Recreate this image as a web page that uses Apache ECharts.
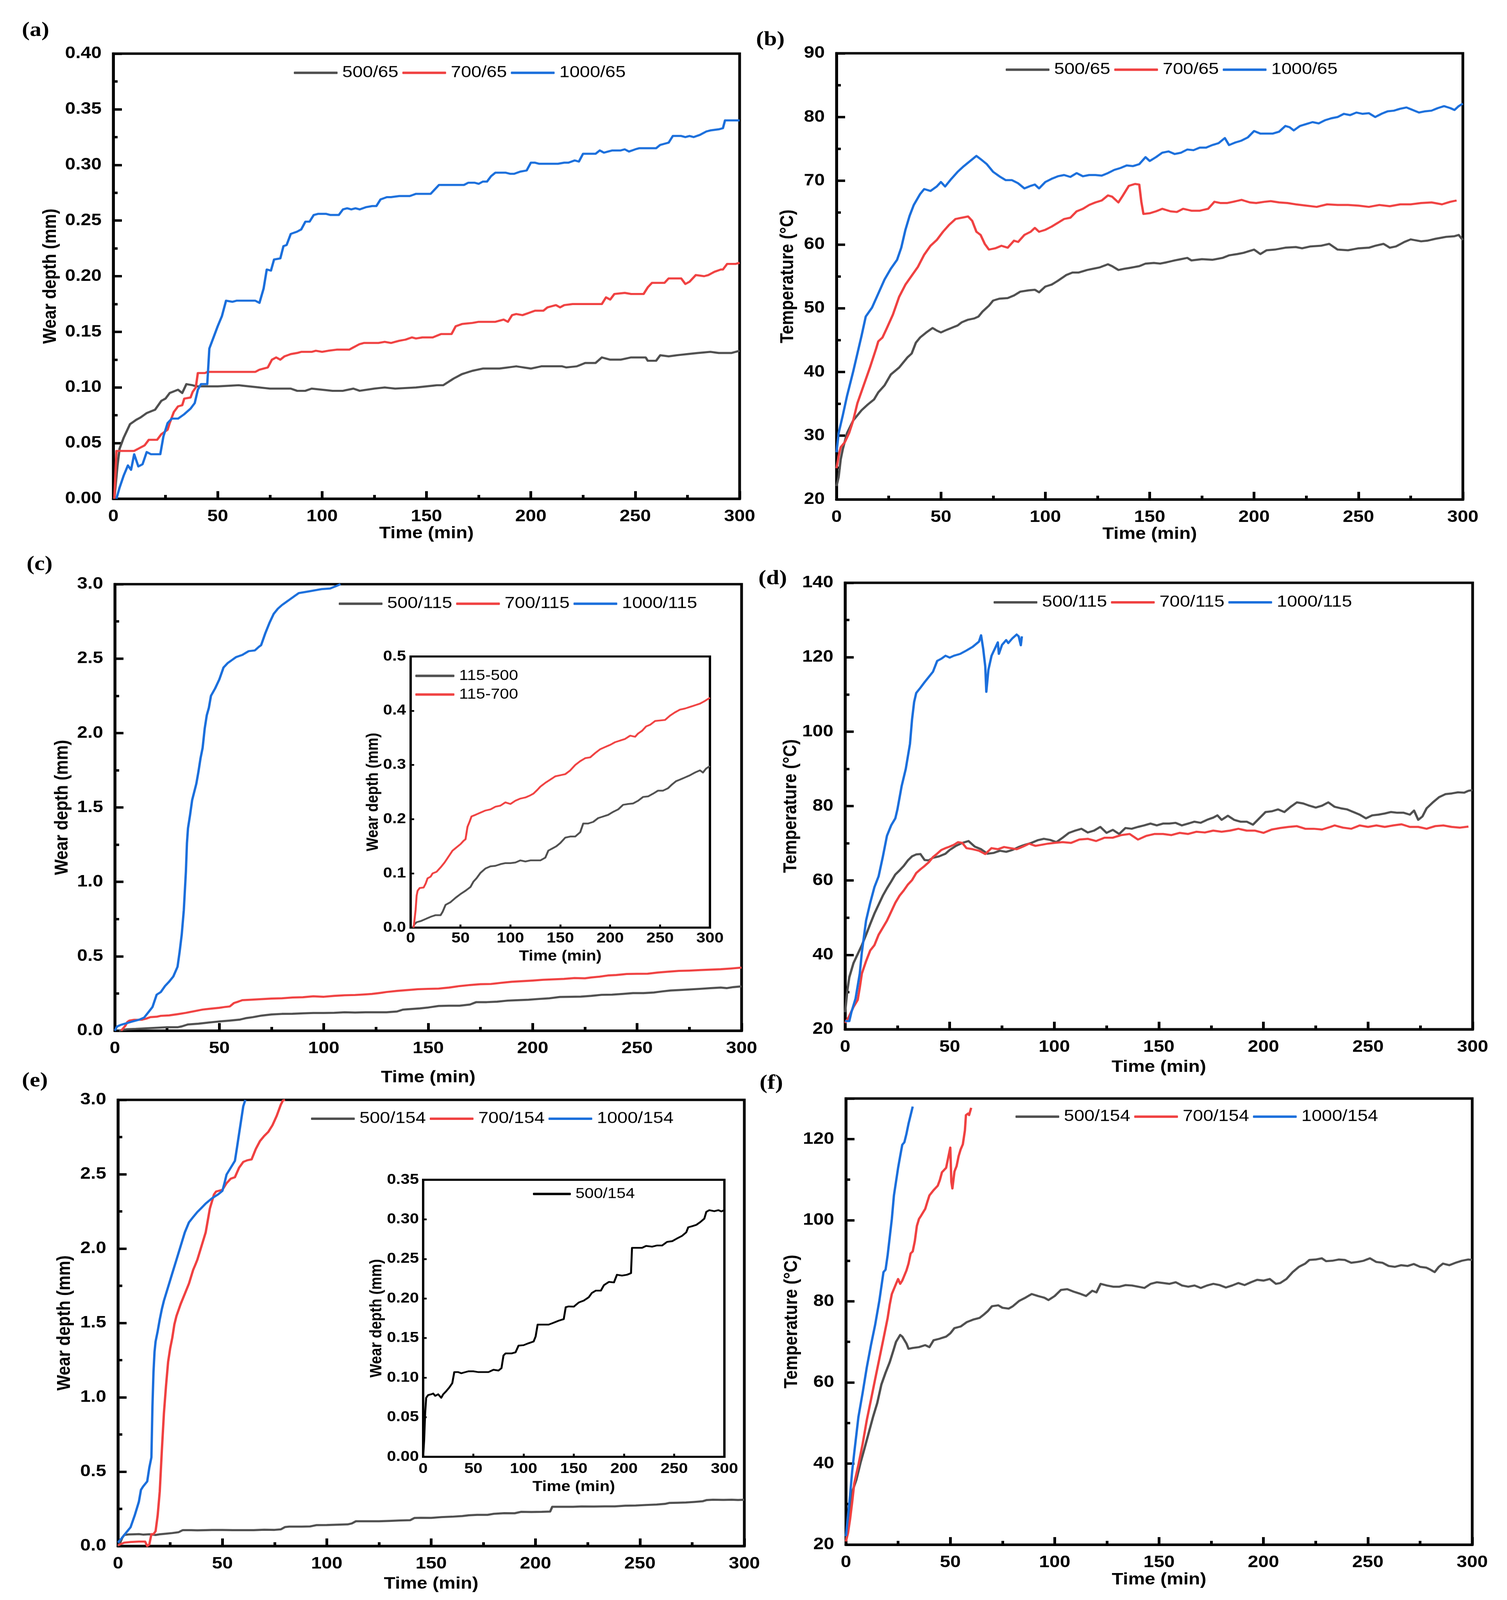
<!DOCTYPE html>
<html>
<head>
<meta charset="utf-8">
<title>Wear depth and temperature</title>
<script src="https://cdn.jsdelivr.net/npm/echarts@6/dist/echarts.min.js"></script>
<style>
	html, body { margin: 0; padding: 0; background: #fff; overflow: hidden; }
	#chart { width: 3857px; height: 4626px; transform-origin: 0 0; }
</style>
</head>
<body>
<div id="chart"></div>
<script>
// ---- data: [time (min), value] ----
const wear65_500 = [[0.5,0],[2,0.03],[3,0.045],[5,0.055],[8,0.067],[11,0.071],[13,0.073],[16,0.077],[20,0.08],[23,0.088],[25,0.09],[27,0.095],[31,0.098],[33,0.095],[35,0.103],[38,0.102],[40,0.101],[50,0.101],[60,0.102],[70,0.1],[75,0.099],[85,0.099],[88,0.097],[92,0.097],[95,0.099],[100,0.098],[105,0.097],[110,0.097],[115,0.099],[118,0.097],[125,0.099],[130,0.1],[135,0.099],[145,0.1],[150,0.101],[155,0.102],[158,0.102],[163,0.108],[167,0.112],[172,0.115],[177,0.117],[185,0.117],[193,0.119],[200,0.117],[205,0.119],[215,0.119],[217,0.118],[222,0.119],[226,0.122],[231,0.122],[234,0.127],[238,0.125],[243,0.125],[248,0.127],[255,0.127],[256,0.124],[260,0.124],[262,0.129],[266,0.128],[270,0.129],[275,0.13],[280,0.131],[286,0.132],[290,0.131],[296,0.131],[300,0.133]];
const wear65_700 = [[0.5,0],[1.5,0.043],[10,0.043],[13,0.046],[15,0.048],[17,0.053],[21,0.053],[23,0.058],[26,0.062],[27,0.068],[29,0.078],[31,0.083],[33,0.084],[34,0.09],[37,0.091],[38,0.096],[39.5,0.1],[40.5,0.113],[44,0.113],[45,0.114],[68,0.114],[70,0.116],[74,0.118],[76,0.125],[78,0.127],[80,0.125],[82,0.128],[85,0.13],[88,0.131],[90,0.132],[95,0.132],[97,0.133],[100,0.132],[103,0.133],[107,0.134],[113,0.134],[115,0.136],[118,0.139],[120,0.14],[127,0.14],[130,0.141],[133,0.14],[137,0.142],[140,0.143],[143,0.145],[145,0.144],[148,0.145],[153,0.145],[157,0.148],[162,0.148],[164,0.155],[167,0.157],[172,0.158],[175,0.159],[183,0.159],[187,0.161],[189,0.159],[191,0.165],[193,0.166],[196,0.165],[199,0.167],[202,0.169],[206,0.169],[208,0.172],[212,0.174],[214,0.172],[216,0.174],[220,0.175],[234,0.175],[236,0.181],[238,0.179],[240,0.184],[245,0.185],[248,0.184],[254,0.184],[256,0.19],[258,0.194],[264,0.194],[266,0.198],[272,0.198],[274,0.193],[276,0.195],[279,0.201],[283,0.2],[285,0.201],[288,0.204],[291,0.206],[292,0.206],[294,0.211],[298,0.211],[300,0.212]];
const wear65_1000 = [[1.5,0],[3,0.01],[5,0.021],[7,0.03],[8.5,0.026],[10,0.04],[12,0.029],[14,0.031],[16,0.042],[18,0.04],[22.5,0.04],[24,0.056],[26,0.068],[28,0.072],[31,0.072],[34,0.076],[37,0.081],[39,0.086],[40.5,0.098],[42,0.103],[45,0.103],[46,0.135],[48,0.145],[50,0.155],[52,0.164],[54,0.178],[57,0.177],[59,0.178],[68,0.178],[70,0.176],[72,0.189],[73.5,0.206],[75.5,0.205],[77,0.215],[80,0.216],[81.5,0.227],[83,0.228],[85,0.238],[88,0.24],[90,0.242],[92,0.249],[94,0.249],[96,0.255],[98,0.256],[102,0.256],[104,0.255],[108,0.255],[110,0.26],[112,0.261],[114,0.26],[116,0.261],[118,0.26],[121,0.262],[124,0.263],[126,0.263],[128,0.269],[131,0.271],[133,0.271],[137,0.272],[142,0.272],[145,0.274],[152,0.274],[154,0.278],[156,0.282],[168,0.282],[170,0.284],[173,0.284],[175,0.283],[177,0.285],[179,0.285],[181,0.29],[183,0.293],[188,0.293],[190,0.292],[192,0.292],[195,0.294],[198,0.295],[200,0.302],[202,0.302],[204,0.301],[213,0.301],[216,0.302],[218,0.302],[221,0.304],[223,0.303],[225,0.31],[231,0.31],[233,0.313],[235,0.311],[237,0.312],[239,0.313],[243,0.313],[245,0.314],[247,0.312],[250,0.314],[252,0.315],[260,0.315],[262,0.318],[264,0.319],[266,0.32],[268,0.326],[272,0.326],[274,0.325],[276,0.326],[278,0.325],[281,0.327],[284,0.33],[286,0.331],[290,0.332],[292,0.333],[293,0.34],[300,0.34]];

const temp65_500 = [[0,22.1],[1,23.5],[2,26.3],[3,27.9],[5,30.4],[8,32.4],[12,34.0],[15,34.9],[18,35.7],[20,36.8],[23,37.9],[26,39.6],[30,40.7],[32,41.5],[34,42.3],[36,42.9],[38,44.6],[40,45.4],[43,46.2],[46,46.9],[48,46.5],[50,46.2],[52,46.5],[55,46.9],[58,47.3],[60,47.8],[63,48.2],[66,48.4],[68,48.7],[70,49.5],[73,50.4],[75,51.2],[78,51.5],[82,51.6],[85,52.0],[88,52.6],[92,52.8],[95,52.9],[97,52.5],[100,53.4],[103,53.7],[106,54.3],[110,55.2],[113,55.6],[116,55.6],[120,56.0],[123,56.2],[126,56.4],[130,56.9],[132,56.6],[135,56.0],[138,56.2],[140,56.3],[145,56.6],[148,57.0],[152,57.1],[155,57.0],[158,57.2],[162,57.5],[165,57.7],[168,57.9],[170,57.5],[175,57.7],[180,57.6],[185,57.9],[188,58.3],[192,58.5],[195,58.7],[200,59.2],[203,58.5],[206,59.1],[210,59.2],[215,59.5],[220,59.6],[223,59.4],[227,59.7],[232,59.8],[236,60.1],[240,59.2],[245,59.1],[250,59.4],[255,59.5],[258,59.8],[262,60.1],[265,59.5],[268,59.7],[272,60.4],[275,60.8],[280,60.5],[283,60.6],[287,60.9],[292,61.2],[296,61.3],[298,61.5],[300,60.7]];
const temp65_700 = [[0,24.9],[1,26.8],[2,28.2],[4,29.0],[6,30.4],[8,32.4],[10,35.1],[13,37.9],[16,40.7],[19,43.7],[20,44.8],[22,45.4],[24,46.8],[27,49.0],[30,51.8],[33,53.7],[36,55.1],[39,56.5],[42,58.4],[45,59.8],[48,60.7],[51,62.0],[54,63.1],[57,64.0],[60,64.2],[63,64.4],[65,63.7],[67,62.0],[69,61.5],[71,60.1],[73,59.2],[76,59.4],[79,59.8],[82,59.5],[85,60.6],[87,60.4],[90,61.5],[93,62.0],[95,62.6],[97,62.0],[100,62.3],[103,62.8],[106,63.4],[109,64.0],[112,64.2],[115,65.2],[118,65.6],[121,66.2],[124,66.6],[127,66.9],[130,67.7],[132,67.5],[135,66.6],[137,67.6],[140,69.2],[143,69.5],[145,69.4],[146,66.7],[147,64.8],[150,64.9],[153,65.2],[156,65.6],[160,65.2],[163,65.1],[166,65.6],[170,65.3],[174,65.3],[178,65.6],[181,66.7],[184,66.5],[187,66.5],[190,66.7],[194,67.0],[198,66.6],[201,66.5],[205,66.7],[208,66.8],[212,66.6],[216,66.5],[220,66.3],[225,66.1],[230,65.9],[235,66.3],[240,66.2],[245,66.2],[250,66.1],[255,65.9],[260,66.2],[265,66.0],[270,66.3],[275,66.3],[280,66.5],[285,66.6],[290,66.3],[294,66.7],[297,66.9]];
const temp65_1000 = [[0,27.4],[1,30.4],[3,33.2],[5,36.2],[8,40.1],[10,42.9],[12,45.7],[14,48.7],[17,50.1],[20,52.3],[23,54.5],[26,56.2],[29,57.6],[31,59.5],[33,62.3],[35,64.5],[37,66.2],[40,67.9],[42,68.7],[45,68.4],[48,69.1],[50,69.8],[52,69.1],[55,70.3],[58,71.4],[61,72.3],[64,73.1],[67,73.9],[69,73.4],[72,72.6],[75,71.4],[78,70.7],[81,70.1],[84,70.1],[87,69.6],[90,68.8],[93,69.2],[95,69.4],[97,68.8],[100,69.8],[103,70.3],[106,70.7],[109,70.9],[112,70.6],[115,71.2],[118,70.7],[121,70.9],[124,70.9],[127,70.8],[130,71.2],[133,71.7],[136,72.0],[139,72.4],[142,72.3],[145,72.6],[148,73.7],[150,73.1],[153,73.7],[156,74.4],[159,74.6],[162,74.2],[165,74.4],[168,74.9],[171,74.8],[174,75.2],[177,75.2],[180,75.6],[183,75.9],[186,76.7],[188,75.6],[191,76.0],[194,76.3],[197,76.8],[200,77.8],[203,77.4],[206,77.4],[209,77.4],[212,77.7],[215,78.6],[217,78.4],[219,77.9],[222,78.6],[225,78.9],[228,79.2],[231,79.0],[234,79.5],[237,79.8],[240,80.0],[243,80.5],[246,80.3],[249,80.7],[252,80.5],[255,80.6],[258,80.0],[261,80.5],[264,80.9],[267,81.0],[270,81.3],[273,81.5],[276,81.1],[279,80.7],[282,80.9],[285,81.0],[288,81.4],[291,81.7],[294,81.4],[296,81.1],[298,81.7],[300,82.1]];

const wear115_500 = [[2,0],[4,0.0065],[6,0.01],[10,0.012],[15,0.016],[20,0.02],[25,0.023],[30,0.023],[32,0.029],[35,0.042],[40,0.047],[45,0.055],[50,0.062],[55,0.068],[60,0.075],[63,0.085],[66,0.091],[70,0.101],[75,0.109],[80,0.113],[85,0.114],[90,0.117],[95,0.119],[100,0.119],[105,0.12],[110,0.124],[115,0.122],[120,0.124],[125,0.124],[130,0.124],[135,0.129],[138,0.142],[142,0.146],[146,0.15],[150,0.156],[155,0.166],[160,0.168],[165,0.168],[170,0.176],[173,0.192],[178,0.192],[183,0.195],[188,0.202],[193,0.205],[198,0.208],[203,0.2135],[208,0.218],[213,0.2265],[218,0.228],[223,0.229],[228,0.234],[233,0.241],[238,0.242],[243,0.247],[248,0.2526],[253,0.2526],[258,0.257],[262,0.264],[266,0.27],[270,0.273],[275,0.277],[280,0.281],[285,0.286],[290,0.29],[293,0.286],[296,0.293],[300,0.298]];
const wear115_700 = [[3,0],[5,0.033],[6,0.059],[7,0.068],[9,0.073],[13,0.074],[15,0.081],[17,0.091],[20,0.094],[22,0.1],[26,0.103],[30,0.111],[34,0.12],[38,0.131],[42,0.142],[46,0.148],[50,0.154],[53,0.16],[55,0.163],[57,0.186],[59,0.195],[61,0.205],[65,0.208],[70,0.212],[75,0.216],[80,0.218],[85,0.223],[90,0.225],[95,0.231],[100,0.228],[105,0.234],[110,0.238],[115,0.24],[120,0.244],[123,0.247],[127,0.254],[130,0.26],[135,0.267],[140,0.273],[145,0.279],[150,0.281],[155,0.283],[160,0.29],[165,0.3],[170,0.307],[175,0.3125],[180,0.314],[185,0.322],[190,0.329],[195,0.333],[200,0.337],[205,0.342],[210,0.345],[215,0.348],[220,0.354],[225,0.352],[228,0.358],[232,0.363],[236,0.371],[240,0.374],[245,0.381],[250,0.382],[255,0.383],[260,0.391],[265,0.397],[270,0.402],[275,0.404],[280,0.407],[285,0.41],[290,0.413],[295,0.418],[300,0.424]];
const wear115_1000 = [[0,0],[1,0.028],[3,0.04],[6,0.052],[9,0.064],[12,0.076],[14,0.088],[16,0.123],[18,0.159],[20,0.242],[22,0.26],[24,0.3],[26,0.33],[28,0.365],[30,0.43],[31,0.53],[32,0.645],[33,0.81],[34,1.07],[34.5,1.26],[35,1.36],[36,1.45],[37,1.55],[39,1.66],[40,1.74],[41,1.83],[42,1.9],[43,2.03],[44,2.12],[45,2.17],[46,2.25],[48,2.3],[50,2.36],[52,2.44],[54,2.47],[56,2.49],[58,2.51],[61,2.525],[64,2.55],[67,2.555],[69,2.58],[70,2.59],[72,2.67],[74,2.74],[76,2.8],[78,2.835],[80,2.86],[82,2.88],[84,2.9],[86,2.92],[88,2.94],[91,2.947],[95,2.957],[99,2.967],[103,2.971],[106,2.988],[108,3.0]];

const temp115_500 = [[0,24.6],[1,30.2],[2,34.0],[4,37.8],[6,40.2],[8,42.6],[10,45.4],[12,48.3],[14,51.1],[16,53.5],[18,55.9],[20,57.9],[22,59.7],[24,61.6],[26,62.7],[28,63.9],[30,65.4],[32,66.5],[34,67.0],[36,67.1],[38,65.5],[40,65.4],[42,66.1],[45,66.5],[48,67.2],[50,68.2],[53,69.3],[56,70.1],[59,70.6],[62,69.1],[65,68.4],[68,67.2],[71,67.4],[74,68.0],[77,67.7],[80,68.2],[83,69.0],[86,69.6],[89,70.1],[92,70.8],[95,71.2],[98,70.9],[101,70.3],[104,71.5],[107,72.8],[110,73.4],[113,73.9],[116,72.9],[119,73.4],[122,74.4],[125,72.8],[128,73.6],[131,72.5],[134,74.1],[137,73.9],[140,74.4],[143,74.8],[146,75.3],[149,74.8],[152,75.3],[155,75.3],[158,75.5],[161,74.8],[164,75.3],[167,75.8],[170,75.5],[173,76.3],[176,76.9],[178,77.5],[180,76.3],[183,77.4],[186,76.3],[189,75.8],[192,75.8],[195,75.0],[198,76.7],[201,78.4],[204,78.6],[207,79.1],[210,78.4],[213,79.8],[216,81.0],[219,80.7],[222,80.1],[225,79.6],[228,80.1],[231,81.0],[234,79.8],[237,79.4],[240,79.1],[243,78.4],[246,77.7],[249,76.7],[252,77.5],[255,77.7],[258,78.0],[261,78.4],[264,78.2],[267,78.2],[270,77.7],[272,78.8],[274,76.3],[276,77.2],[278,79.4],[281,81.0],[284,82.4],[287,83.2],[290,83.4],[293,83.7],[296,83.6],[298,84.1],[300,84.3]];
const temp115_700 = [[0,21.7],[2,23.6],[4,26.0],[6,27.9],[7,31.2],[8,35.0],[10,38.3],[12,41.2],[14,42.6],[16,45.4],[18,47.3],[20,49.2],[22,51.6],[24,54.0],[26,55.9],[28,57.3],[30,58.9],[32,60.1],[34,62.0],[36,63.0],[38,63.9],[40,64.9],[42,66.3],[44,67.2],[46,68.2],[48,68.7],[50,69.1],[52,69.6],[54,70.3],[56,70.1],[58,68.7],[61,68.4],[64,68.0],[67,67.1],[70,68.7],[73,68.4],[76,69.0],[79,68.7],[82,68.4],[85,69.1],[88,69.9],[91,69.3],[94,69.6],[97,69.9],[100,70.1],[104,70.3],[108,70.1],[112,71.0],[116,71.2],[120,70.6],[124,71.5],[128,71.5],[132,72.2],[136,72.5],[140,71.0],[144,72.0],[148,72.5],[152,72.5],[156,72.2],[160,72.8],[164,72.5],[168,73.1],[172,72.9],[176,73.4],[180,73.1],[184,73.4],[188,73.9],[192,73.4],[196,73.4],[200,72.8],[204,73.7],[208,74.1],[212,74.4],[216,74.6],[220,73.9],[224,73.9],[228,73.7],[232,74.4],[234,74.8],[238,74.2],[242,73.9],[246,74.8],[250,74.4],[254,74.8],[258,74.4],[262,74.8],[266,75.1],[270,74.4],[274,74.4],[278,73.9],[282,74.6],[286,74.8],[290,74.4],[294,74.2],[298,74.5]];
const temp115_1000 = [[0,22.2],[2,22.2],[3,24.6],[5,28.3],[7,35.0],[8,40.7],[10,49.2],[12,54.0],[14,58.2],[16,61.1],[18,66.3],[20,72.0],[22,74.8],[24,76.7],[25,79.1],[27,85.3],[29,90.0],[31,96.7],[32,103.3],[33,108.0],[34,110.4],[36,111.8],[38,113.3],[40,114.7],[42,116.1],[44,119.0],[46,119.6],[48,120.4],[50,119.9],[52,120.4],[55,120.9],[58,121.8],[61,122.8],[64,124.2],[65,125.9],[66,122.3],[67,117.5],[67.5,110.7],[68.5,116.6],[70,120.4],[72,122.8],[73,124.0],[73.5,120.9],[75,123.3],[77,124.6],[78,123.8],[80,125.1],[82,126.1],[83,125.6],[84,123.2],[84.5,125.6]];

const wear154_500 = [[0,0],[1,0.021],[2,0.055],[3,0.0746],[5,0.078],[8,0.079],[10,0.08],[12,0.077],[15,0.079],[18,0.0746],[20,0.079],[23,0.083],[26,0.0875],[29,0.093],[31,0.107],[35,0.107],[38,0.1056],[42,0.107],[45,0.108],[50,0.108],[55,0.107],[60,0.107],[65,0.107],[70,0.11],[75,0.109],[78,0.112],[80,0.128],[82,0.1306],[88,0.1306],[92,0.132],[95,0.1405],[100,0.141],[105,0.1435],[110,0.1457],[112,0.152],[114,0.167],[118,0.167],[125,0.167],[130,0.1694],[135,0.172],[140,0.174],[142,0.189],[145,0.19],[150,0.1897],[155,0.195],[160,0.1974],[165,0.2017],[168,0.207],[172,0.21],[177,0.21],[180,0.2168],[185,0.221],[190,0.2203],[193,0.23],[198,0.229],[203,0.23],[207,0.232],[208,0.264],[212,0.264],[218,0.264],[222,0.2664],[228,0.2655],[233,0.267],[238,0.267],[243,0.2716],[248,0.2724],[253,0.276],[258,0.2793],[262,0.2836],[264,0.29],[268,0.2914],[272,0.293],[276,0.2966],[280,0.3009],[282,0.3095],[285,0.3116],[290,0.3103],[294,0.3116],[297,0.31],[300,0.3116]];
const wear154_700 = [[0,0.005],[3,0.023],[6,0.0275],[10,0.03],[13,0.03],[14,0],[15,0.011],[16,0.08],[17,0.08],[18,0.1],[19,0.206],[20,0.367],[21,0.642],[22,0.894],[23,1.077],[24,1.238],[25,1.33],[26,1.4],[27,1.49],[28,1.547],[30,1.627],[32,1.696],[34,1.765],[36,1.857],[37,1.89],[38,1.925],[40,2.017],[42,2.109],[43,2.189],[44,2.269],[46,2.365],[47,2.384],[50,2.395],[52,2.44],[54,2.47],[56,2.48],[58,2.544],[60,2.583],[62,2.594],[64,2.6],[66,2.67],[68,2.723],[70,2.757],[72,2.785],[74,2.83],[76,2.892],[78,2.968],[79,2.996],[80,3.0]];
const wear154_1000 = [[0,0.023],[2,0.057],[4,0.092],[6,0.126],[8,0.206],[10,0.298],[11,0.378],[12,0.4],[14,0.435],[15,0.527],[16,0.596],[16.5,0.94],[17,1.17],[17.5,1.306],[18,1.375],[19,1.444],[20,1.524],[21,1.593],[22,1.65],[23,1.696],[24,1.742],[26,1.834],[28,1.925],[30,2.017],[32,2.109],[34,2.177],[36,2.212],[38,2.246],[40,2.274],[42,2.303],[45,2.338],[48,2.365],[50,2.388],[51,2.44],[52,2.498],[54,2.544],[56,2.59],[57,2.68],[58,2.773],[59,2.865],[60,2.957],[61,3.0]];

const temp154_500 = [[0,20.8],[1,25.5],[2,28.8],[3,33.0],[5,36.0],[7,40.2],[9,43.9],[11,47.7],[13,51.5],[15,54.9],[17,59.5],[19,62.4],[21,65.0],[23,68.3],[24,70.0],[26,71.7],[27,71.3],[29,69.6],[30,68.3],[32,68.5],[35,68.7],[38,69.2],[40,68.7],[42,70.4],[45,70.8],[48,71.3],[50,72.1],[52,73.4],[55,73.8],[58,74.9],[61,75.5],[64,75.9],[66,76.7],[68,77.6],[70,78.8],[73,79.0],[75,78.4],[78,78.2],[80,78.8],[83,80.1],[86,80.9],[89,81.8],[92,81.3],[95,80.9],[97,80.3],[100,81.3],[103,82.8],[106,83.0],[109,82.4],[112,81.9],[115,81.3],[118,82.6],[120,82.2],[122,84.3],[125,83.9],[128,83.6],[131,83.6],[134,84.0],[137,83.9],[140,83.6],[143,83.3],[146,84.3],[149,84.7],[152,84.5],[155,84.3],[158,84.7],[161,83.9],[164,83.6],[167,83.9],[170,83.3],[173,83.9],[176,84.3],[179,84.0],[182,83.4],[185,83.9],[188,84.5],[191,84.0],[194,84.7],[197,85.3],[200,85.1],[203,85.5],[206,84.3],[208,84.5],[211,85.5],[214,87.2],[217,88.5],[220,89.3],[222,90.2],[225,90.3],[228,90.6],[230,89.9],[233,90.0],[236,90.3],[239,90.2],[242,89.5],[245,89.7],[248,90.0],[251,90.6],[254,89.7],[257,89.5],[260,88.7],[263,88.5],[266,88.9],[269,88.7],[272,89.2],[275,88.5],[278,88.3],[280,87.8],[282,87.2],[284,88.5],[286,89.3],[289,88.9],[292,89.5],[295,90.0],[298,90.3],[300,90.2]];
const temp154_700 = [[0,20.8],[1,22.9],[2,26.3],[3,30.5],[4,35.1],[6,39.7],[8,44.8],[10,50.7],[12,55.7],[14,60.8],[16,65.8],[18,70.8],[20,75.9],[21,79.2],[22,81.8],[24,84.3],[25,85.5],[26,84.3],[27,85.1],[29,87.6],[30,89.3],[31,91.8],[32,92.3],[33,94.8],[34,98.6],[35,100.3],[36,101.1],[38,102.8],[39,104.5],[40,106.1],[42,107.4],[44,108.5],[45,109.9],[46,111.8],[48,112.9],[49,115.4],[50,117.9],[50.5,109.5],[51,107.8],[52,112.0],[53,113.3],[54,115.8],[55,117.5],[56,118.7],[57,122.1],[57.5,125.9],[58.5,126.3],[59,125.9],[60,127.7]];
const temp154_1000 = [[0,22.1],[1,27.1],[2,32.2],[3,38.1],[4,42.7],[6,51.5],[8,57.4],[10,63.7],[12,69.2],[14,74.2],[16,80.1],[18,87.2],[19,87.8],[20,91.4],[22,100.3],[23,106.1],[24,109.5],[25,112.9],[26,115.8],[27,118.6],[28,119.2],[29,121.3],[30,123.8],[31,125.9],[32,128.0]];

const timeTicks = { min: 0, max: 300, interval: 50 };

const GREY = "#4f4f4f";
const RED = "#f04141";
const BLUE = "#1b6fdc";
const FONT = '"Liberation Sans", Arial, sans-serif';
const PAGE_W = 3857, PAGE_H = 4626;

// plot boxes in page pixels
const boxes = [
	{ left: 290, top: 155, width: 1603, height: 1287 },   // a
	{ left: 2141, top: 154, width: 1603, height: 1290 },  // b
	{ left: 294, top: 1689, width: 1604, height: 1291 },  // c
	{ left: 2163, top: 1685, width: 1606, height: 1291 }, // d
	{ left: 302, top: 3180, width: 1603, height: 1290 },  // e
	{ left: 2165, top: 3176, width: 1603, height: 1290 }, // f
	{ left: 1051, top: 1898, width: 766, height: 784 },   // c inset
	{ left: 1083, top: 3411, width: 771, height: 801 },   // e inset
];

function makeGrid(b, inset) {
	return {
		left: b.left, top: b.top, width: b.width, height: b.height,
		show: true, borderColor: "#000", borderWidth: inset ? 6 : 7,
		backgroundColor: "transparent", containLabel: false,
	};
}

function makeX(g, nameGap, inset, labelMargin) {
	return {
		type: "value", gridIndex: g,
		min: timeTicks.min, max: timeTicks.max, interval: timeTicks.interval,
		name: "Time (min)", nameLocation: "middle", nameGap: nameGap,
		nameTextStyle: { fontSize: inset ? 42 : 48, fontWeight: "bold", color: "#000", fontFamily: FONT },
		axisLine: { show: true, onZero: false, lineStyle: { color: "#000", width: inset ? 6 : 7 } },
		axisTick: { show: true, inside: true, length: inset ? 9 : 22, lineStyle: { color: "#000", width: inset ? 5 : 7 } },
		minorTick: { show: !inset, splitNumber: 2, length: 11, lineStyle: { color: "#000", width: 7 } },
		splitLine: { show: false },
		axisLabel: { fontSize: inset ? 42 : 48, fontWeight: "bold", color: "#000", fontFamily: FONT, margin: labelMargin },
	};
}

function makeY(g, min, max, interval, digits, name, nameGap, inset, labelMargin) {
	const steps = (max - min) / interval;
	return {
		type: "value", gridIndex: g, min: min, max: max, interval: interval,
		name: name, nameLocation: "middle", nameGap: nameGap,
		nameTextStyle: { fontSize: inset ? 42 : 48, fontWeight: "bold", color: "#000", fontFamily: FONT },
		axisLine: { show: true, onZero: false, lineStyle: { color: "#000", width: inset ? 6 : 7 } },
		axisTick: { show: true, inside: true, length: inset ? 9 : 22, lineStyle: { color: "#000", width: inset ? 5 : 7 } },
		minorTick: { show: !inset, splitNumber: 2, length: 11, lineStyle: { color: "#000", width: 7 } },
		splitLine: { show: false },
		axisLabel: {
			fontSize: inset ? 42 : 48, fontWeight: "bold", color: "#000", fontFamily: FONT, margin: labelMargin,
			showMaxLabel: Math.abs(steps - Math.round(steps)) < 1e-6,
			formatter: function (v) { return v.toFixed(digits); },
		},
	};
}

function makeLine(name, data, color, idx, width) {
	return {
		type: "line", name: name, data: data,
		xAxisIndex: idx, yAxisIndex: idx,
		showSymbol: false, symbol: "none", clip: true,
		lineStyle: { color: color, width: width || 6, join: "round" },
		itemStyle: { color: color },
		emphasis: { disabled: true },
	};
}

function makeLegend(names, colors, left, top, orient, fontSize, itemWidth, itemGap) {
	return {
		orient: orient || "horizontal",
		left: left, top: top, padding: 0,
		itemWidth: itemWidth || 112, itemHeight: 7, itemGap: itemGap === undefined ? 10 : itemGap,
		icon: "roundRect", selectedMode: false,
		textStyle: { fontSize: fontSize || 47, color: "#000", fontFamily: FONT, padding: [0, 0, 0, 7] },
		data: names.map(function (n, i) { return { name: n, itemStyle: { color: colors[i] } }; }),
	};
}

const WD = "Wear depth (mm)";
const TC = "Temperature (°C)";

const option = {
	backgroundColor: "#fff",
	animation: false,
	grid: boxes.map(function (b, i) { return makeGrid(b, i >= 6); }),
	xAxis: [
		makeX(0, 74, false, 28),
		makeX(1, 72, false, 28),
		makeX(2, 112, false, 28),
		makeX(3, 86, false, 28),
		makeX(4, 86, false, 28),
		makeX(5, 78, false, 28),
		makeX(6, 62, true, 10),
		makeX(7, 66, true, 14),
	],
	yAxis: [
		makeY(0, 0, 0.4, 0.05, 2, WD, 136, false, 30),
		makeY(1, 20, 90, 10, 0, TC, 100, false, 30),
		makeY(2, 0, 3, 0.5, 1, WD, 110, false, 30),
		makeY(3, 20, 140, 20, 0, TC, 112, false, 30),
		makeY(4, 0, 3, 0.5, 1, WD, 112, false, 30),
		makeY(5, 20, 130, 20, 0, TC, 106, false, 30),
		makeY(6, 0, 0.5, 0.1, 1, WD, 72, true, 12),
		makeY(7, 0, 0.35, 0.05, 2, WD, 98, true, 11),
	],
	legend: [
		makeLegend(["500/65", "700/65", "1000/65"], [GREY, RED, BLUE], 752, 187),
		makeLegend(["500/65", "700/65", "1000/65"], [GREY, RED, BLUE], 2574, 178),
		makeLegend(["500/115", "700/115", "1000/115"], [GREY, RED, BLUE], 867, 1722),
		makeLegend(["500/115", "700/115", "1000/115"], [GREY, RED, BLUE], 2543, 1718),
		makeLegend(["500/154", "700/154", "1000/154"], [GREY, RED, BLUE], 796, 3211),
		makeLegend(["500/154", "700/154", "1000/154"], [GREY, RED, BLUE], 2599, 3205),
		makeLegend(["115-500", "115-700"], [GREY, RED], 1063, 1933, "vertical", 42, 100, 12),
		makeLegend(["500/154 "], ["#000"], 1364, 3431, "horizontal", 42, 97),
	],
	series: [
		makeLine("500/65", wear65_500, GREY, 0),
		makeLine("700/65", wear65_700, RED, 0),
		makeLine("1000/65", wear65_1000, BLUE, 0),
		makeLine("500/65", temp65_500, GREY, 1),
		makeLine("700/65", temp65_700, RED, 1),
		makeLine("1000/65", temp65_1000, BLUE, 1),
		makeLine("500/115", wear115_500, GREY, 2),
		makeLine("700/115", wear115_700, RED, 2),
		makeLine("1000/115", wear115_1000, BLUE, 2),
		makeLine("500/115", temp115_500, GREY, 3),
		makeLine("700/115", temp115_700, RED, 3),
		makeLine("1000/115", temp115_1000, BLUE, 3),
		makeLine("500/154", wear154_500, GREY, 4),
		makeLine("700/154", wear154_700, RED, 4),
		makeLine("1000/154", wear154_1000, BLUE, 4),
		makeLine("500/154", temp154_500, GREY, 5),
		makeLine("700/154", temp154_700, RED, 5),
		makeLine("1000/154", temp154_1000, BLUE, 5),
		makeLine("115-500", wear115_500, GREY, 6, 5),
		makeLine("115-700", wear115_700, RED, 6, 5),
		makeLine("500/154 ", wear154_500, "#000", 7, 5),
	],
	graphic: [
		["(a)", 56, 58], ["(b)", 1935, 85], ["(c)", 68, 1602],
		["(d)", 1941, 1643], ["(e)", 56, 3095], ["(f)", 1944, 3102],
	].map(function (p) {
		return {
			type: "text", left: p[1], top: p[2], silent: true,
			style: { text: p[0], fill: "#000", font: 'bold 60px "Liberation Serif", "DejaVu Serif", serif' },
		};
	}),
};

// the viewport may be shorter than the figure: squeeze the whole page into it
const box = document.getElementById("chart");
const sx = Math.min(1, window.innerWidth / PAGE_W);
const sy = Math.min(1, window.innerHeight / PAGE_H);
if (sx < 1 || sy < 1) {
	box.style.transform = "scale(" + sx + "," + sy + ")";
}

const chart = echarts.init(box, null, { renderer: "canvas" });
chart.setOption(option);
</script>
</body>
</html>
